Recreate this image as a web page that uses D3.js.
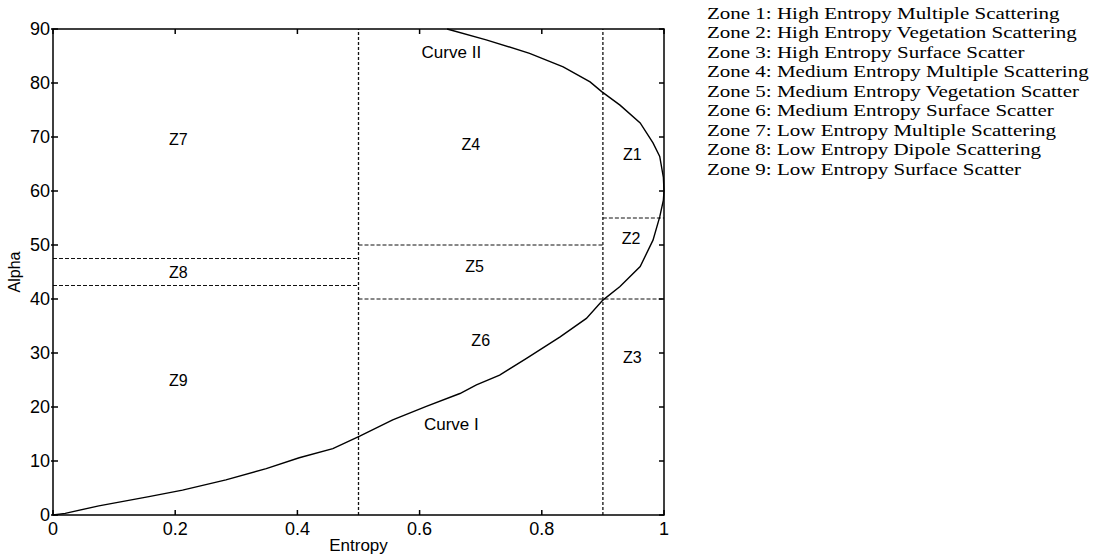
<!DOCTYPE html>
<html>
<head>
<meta charset="utf-8">
<script src="https://cdn.jsdelivr.net/npm/d3@7"></script>
<style>
  html, body { margin: 0; padding: 0; background: #fff; }
  svg { display: block; }
</style>
</head>
<body>
<svg id="chart" width="1096" height="556"></svg>
<script>
// H/alpha classification plane
const xTicks = [0, 0.2, 0.4, 0.6, 0.8, 1];
const xTickLabels = ["0", "0.2", "0.4", "0.6", "0.8", "1"];
const yTicks = [0, 10, 20, 30, 40, 50, 60, 70, 80, 90];

// Curve I: lower feasibility bound
const curve1H = [0, 0.02, 0.075, 0.157, 0.212, 0.283, 0.349, 0.403, 0.458, 0.502, 0.556, 0.611, 0.666, 0.693, 0.731, 0.775, 0.83, 0.873, 0.9, 0.928, 0.961, 0.982, 0.993, 0.999, 1.0];
const curve1A = [0, 0.3, 1.7, 3.4, 4.6, 6.5, 8.6, 10.6, 12.3, 14.6, 17.6, 20.1, 22.5, 24.1, 25.9, 29.0, 33.0, 36.4, 39.8, 42.3, 46.0, 50.9, 55.2, 58.3, 60];

// Curve II: upper feasibility bound
const curve2H = [0.645, 0.709, 0.78, 0.835, 0.879, 0.898, 0.928, 0.961, 0.982, 0.993, 0.999, 1.0];
const curve2A = [90, 88.0, 85.5, 83.0, 80.2, 78.4, 75.9, 72.6, 68.9, 66.4, 62.5, 60];

// Zone boundaries: [H0, H1, alpha] for horizontals, [H, alpha0, alpha1] for verticals
const hBounds = [[0, 0.5, 47.5], [0, 0.5, 42.5], [0.5, 0.9, 50], [0.5, 1, 40], [0.9, 1, 55]];
const vBounds = [[0.5, 0, 90], [0.9, 0, 90]];

// Zone labels
const zoneNames = ["Z1", "Z2", "Z3", "Z4", "Z5", "Z6", "Z7", "Z8", "Z9"];
const zoneH = [0.948, 0.946, 0.948, 0.684, 0.69, 0.70, 0.205, 0.205, 0.205];
const zoneA = [66.8, 51.2, 29.2, 68.6, 46, 32.4, 69.5, 45, 25];

const curveNames = ["Curve II", "Curve I"];
const curveLabelH = [0.652, 0.652];
const curveLabelA = [85.7, 16.9];

const legendItems = [
  "Zone 1: High Entropy Multiple Scattering",
  "Zone 2: High Entropy Vegetation Scattering",
  "Zone 3: High Entropy Surface Scatter",
  "Zone 4: Medium Entropy Multiple Scattering",
  "Zone 5: Medium Entropy Vegetation Scatter",
  "Zone 6: Medium Entropy Surface Scatter",
  "Zone 7: Low Entropy Multiple Scattering",
  "Zone 8: Low Entropy Dipole Scattering",
  "Zone 9: Low Entropy Surface Scatter"
];

const svg = d3.select("#chart");
const plotL = 53, plotR = 664, plotT = 29, plotB = 515;
const x = d3.scaleLinear().domain([0, 1]).range([plotL, plotR]);
const y = d3.scaleLinear().domain([0, 90]).range([plotB, plotT]);

const sans = "'Liberation Sans', Arial, sans-serif";

// Dashed zone boundaries
const dash = svg.append("g").attr("stroke", "#111").attr("stroke-width", 1).attr("fill", "none");
dash.selectAll("line.h").data(hBounds).join("line").attr("class", "h")
  .attr("x1", d => x(d[0])).attr("x2", d => x(d[1]))
  .attr("y1", d => y(d[2])).attr("y2", d => y(d[2]))
  .attr("stroke-dasharray", "4,2");
dash.selectAll("line.v").data(vBounds).join("line").attr("class", "v")
  .attr("x1", d => x(d[0])).attr("x2", d => x(d[0]))
  .attr("y1", d => y(d[1])).attr("y2", d => y(d[2]))
  .attr("stroke-width", 1.3)
  .attr("stroke-dasharray", "3,2");

// Bounding curves
const line = d3.line().x(d => x(d[0])).y(d => y(d[1]));
svg.append("path").datum(curve1H.map((h, i) => [h, curve1A[i]]))
  .attr("d", line).attr("fill", "none").attr("stroke", "#000").attr("stroke-width", 1.4);
svg.append("path").datum(curve2H.map((h, i) => [h, curve2A[i]]))
  .attr("d", line).attr("fill", "none").attr("stroke", "#000").attr("stroke-width", 1.4);

// Frame with inward ticks
const frame = svg.append("g").attr("stroke", "#000").attr("stroke-width", 1.5);
frame.append("rect").attr("x", plotL).attr("y", plotT).attr("width", plotR - plotL).attr("height", plotB - plotT).attr("fill", "none");
const tk = 5;
frame.selectAll("line.xb").data(xTicks).join("line").attr("class", "xb")
  .attr("x1", d => x(d)).attr("x2", d => x(d)).attr("y1", plotB).attr("y2", plotB - tk);
frame.selectAll("line.xt").data(xTicks).join("line").attr("class", "xt")
  .attr("x1", d => x(d)).attr("x2", d => x(d)).attr("y1", plotT).attr("y2", plotT + tk);
frame.selectAll("line.yl").data(yTicks).join("line").attr("class", "yl")
  .attr("x1", plotL - 2).attr("x2", plotL + tk).attr("y1", d => y(d)).attr("y2", d => y(d));
frame.selectAll("line.yr").data(yTicks).join("line").attr("class", "yr")
  .attr("x1", plotR).attr("x2", plotR - tk).attr("y1", d => y(d)).attr("y2", d => y(d));

// Tick labels
svg.append("g").selectAll("text").data(xTicks).join("text")
  .attr("x", d => x(d)).attr("y", plotB + 20)
  .attr("text-anchor", "middle")
  .attr("font-family", sans).attr("font-size", 18).attr("fill", "#000")
  .text((d, i) => xTickLabels[i]);
svg.append("g").selectAll("text").data(yTicks).join("text")
  .attr("x", plotL - 3).attr("y", d => y(d)).attr("dy", "0.35em")
  .attr("text-anchor", "end")
  .attr("font-family", sans).attr("font-size", 18).attr("fill", "#000")
  .text(d => d);

// Axis titles
svg.append("text").attr("x", x(0.5)).attr("y", 551).attr("text-anchor", "middle")
  .attr("font-family", sans).attr("font-size", 17).text("Entropy");
svg.append("text").attr("transform", `translate(20,${y(45)}) rotate(-90)`).attr("text-anchor", "middle")
  .attr("font-family", sans).attr("font-size", 16).text("Alpha");

// Zone labels
svg.append("g").selectAll("text").data(zoneNames).join("text")
  .attr("x", (d, i) => x(zoneH[i])).attr("y", (d, i) => y(zoneA[i])).attr("dy", "0.35em")
  .attr("text-anchor", "middle")
  .attr("font-family", sans).attr("font-size", 16).text(d => d);

// Curve names
svg.append("g").selectAll("text").data(curveNames).join("text")
  .attr("x", (d, i) => x(curveLabelH[i])).attr("y", (d, i) => y(curveLabelA[i])).attr("dy", "0.35em")
  .attr("text-anchor", "middle")
  .attr("font-family", sans).attr("font-size", 17).text(d => d);

// Zone legend: serif text, slightly widened horizontally
svg.append("g").attr("transform", "translate(707,0) scale(1.2,1)")
  .selectAll("text").data(legendItems).join("text")
  .attr("x", 0).attr("y", (d, i) => 19 + i * 19.5)
  .attr("font-family", "'Liberation Serif', 'Times New Roman', serif").attr("font-size", 17.5)
  .attr("fill", "#000").text(d => d);
</script>
</body>
</html>
